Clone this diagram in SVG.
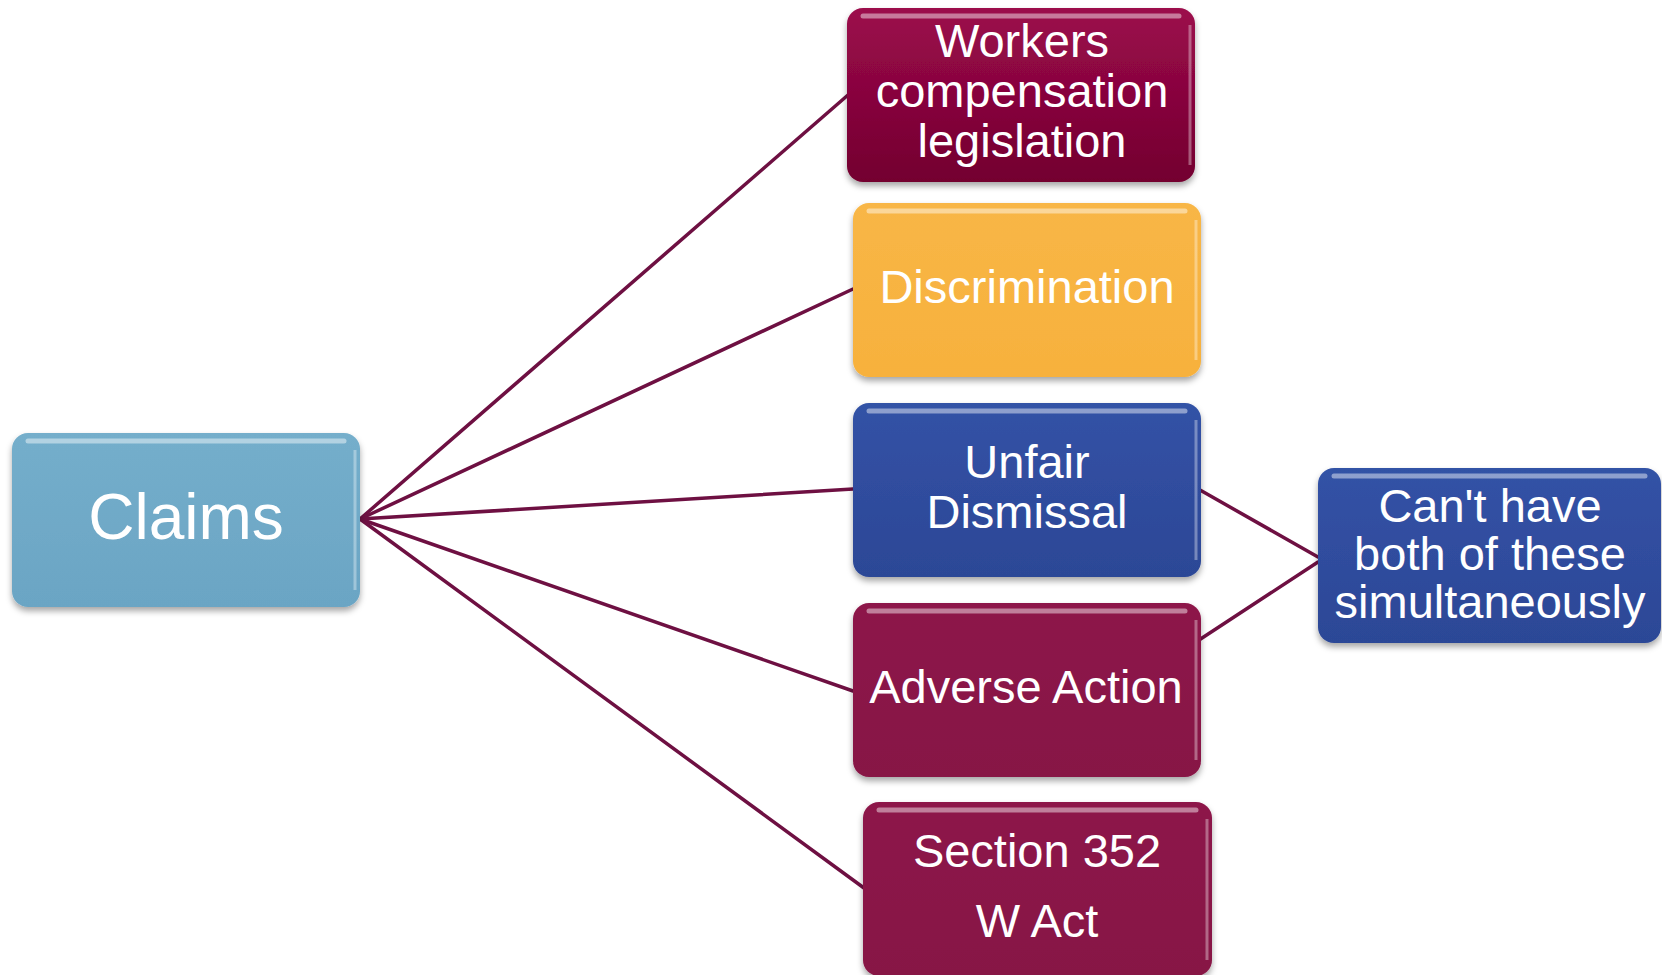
<svg xmlns="http://www.w3.org/2000/svg" width="1662" height="975" viewBox="0 0 1662 975">
<style>
.box{filter:url(#sh);}
.hl{fill:none;stroke:#ffffff;stroke-opacity:0.45;stroke-width:5;}
.edge{fill:none;stroke:#ffffff;stroke-opacity:0.35;stroke-width:3;}
.t{font-family:"Liberation Sans",Arial,sans-serif;fill:#ffffff;text-anchor:middle;font-size:47px;}
.conn{stroke:#6e1042;stroke-width:3.5;fill:none;stroke-linecap:round;}
</style>
<defs>
<filter id="sh" x="-10%" y="-10%" width="120%" height="130%">
<feDropShadow dx="0" dy="4" stdDeviation="3" flood-color="#000" flood-opacity="0.35"/>
</filter>
<linearGradient id="gBlue" x1="0" y1="0" x2="0" y2="1"><stop offset="0" stop-color="#3352a6"/><stop offset="1" stop-color="#2c4796"/></linearGradient>
<linearGradient id="gClaims" x1="0" y1="0" x2="0" y2="1"><stop offset="0" stop-color="#74aecb"/><stop offset="1" stop-color="#6ba5c4"/></linearGradient>
<linearGradient id="gWork" x1="0" y1="0" x2="0" y2="1"><stop offset="0" stop-color="#9c0a4c"/><stop offset="1" stop-color="#73002f"/></linearGradient>
<linearGradient id="gDisc" x1="0" y1="0" x2="0" y2="1"><stop offset="0" stop-color="#f8b646"/><stop offset="1" stop-color="#f7b13d"/></linearGradient>
<linearGradient id="gMar" x1="0" y1="0" x2="0" y2="1"><stop offset="0" stop-color="#8d174a"/><stop offset="1" stop-color="#871445"/></linearGradient>
</defs>
<g id="connectors">
<line class="conn" x1="360" y1="519" x2="848" y2="95"/>
<line class="conn" x1="360" y1="519" x2="853" y2="289"/>
<line class="conn" x1="360" y1="519" x2="853" y2="489"/>
<line class="conn" x1="360" y1="519" x2="853" y2="691"/>
<line class="conn" x1="360" y1="519" x2="864" y2="888"/>
<line class="conn" x1="1200" y1="490" x2="1318" y2="557"/>
<line class="conn" x1="1196" y1="642" x2="1318" y2="562"/>
</g>
<g id="claims">
<rect class="box" x="12" y="433" width="348" height="174" rx="16" fill="url(#gClaims)"/>
<line class="hl" x1="28" y1="441" x2="344" y2="441" stroke-linecap="round"/>
<line class="edge" x1="355" y1="450" x2="355" y2="590"/>
<text class="t" x="186" y="539" style="font-size:64px">Claims</text>
</g>
<g id="workers">
<rect class="box" x="847" y="8" width="348" height="174" rx="16" fill="url(#gWork)"/>
<line class="hl" x1="863" y1="16" x2="1179" y2="16" stroke-linecap="round"/>
<line class="edge" x1="1190" y1="25" x2="1190" y2="165"/>
<text class="t" x="1022" y="57">Workers</text>
<text class="t" x="1022" y="107">compensation</text>
<text class="t" x="1022" y="157">legislation</text>
</g>
<g id="discrimination">
<rect class="box" x="853" y="203" width="348" height="174" rx="16" fill="url(#gDisc)"/>
<line class="hl" x1="869" y1="211" x2="1185" y2="211" stroke-linecap="round"/>
<line class="edge" x1="1196" y1="220" x2="1196" y2="360"/>
<text class="t" x="1027" y="303">Discrimination</text>
</g>
<g id="unfair">
<rect class="box" x="853" y="403" width="348" height="174" rx="16" fill="url(#gBlue)"/>
<line class="hl" x1="869" y1="411" x2="1185" y2="411" stroke-linecap="round"/>
<line class="edge" x1="1196" y1="420" x2="1196" y2="560"/>
<text class="t" x="1027" y="478">Unfair</text>
<text class="t" x="1027" y="528">Dismissal</text>
</g>
<g id="adverse">
<rect class="box" x="853" y="603" width="348" height="174" rx="16" fill="url(#gMar)"/>
<line class="hl" x1="869" y1="611" x2="1185" y2="611" stroke-linecap="round"/>
<line class="edge" x1="1196" y1="620" x2="1196" y2="760"/>
<text class="t" x="1026" y="703">Adverse Action</text>
</g>
<g id="section352">
<rect class="box" x="863" y="802" width="349" height="174" rx="16" fill="url(#gMar)"/>
<line class="hl" x1="879" y1="810" x2="1196" y2="810" stroke-linecap="round"/>
<line class="edge" x1="1207" y1="819" x2="1207" y2="960"/>
<text class="t" x="1037" y="867">Section 352</text>
<text class="t" x="1037" y="937">W Act</text>
</g>
<g id="cant">
<rect class="box" x="1318" y="468" width="343" height="175" rx="16" fill="url(#gBlue)"/>
<line class="hl" x1="1334" y1="476" x2="1645" y2="476" stroke-linecap="round"/>
<text class="t" x="1490" y="522">Can't have</text>
<text class="t" x="1490" y="570">both of these</text>
<text class="t" x="1490" y="618">simultaneously</text>
</g>
</svg>
